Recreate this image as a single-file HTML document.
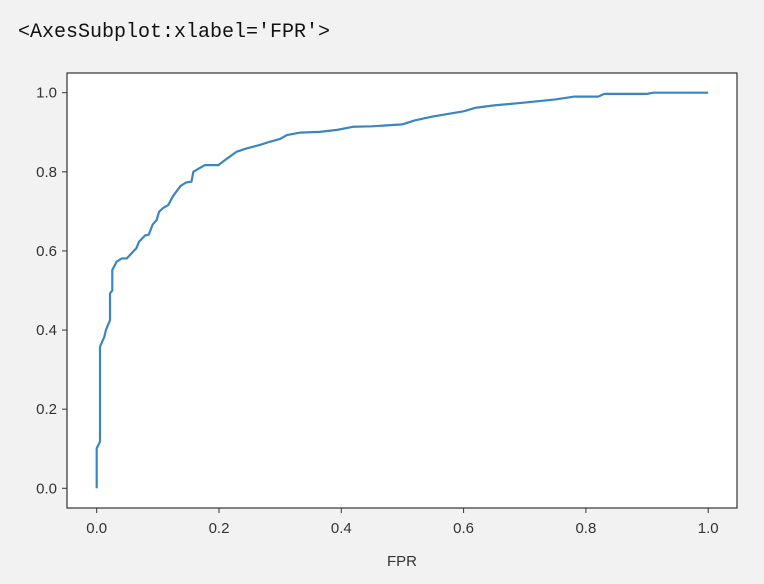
<!DOCTYPE html>
<html><head><meta charset="utf-8"><style>
body{margin:0;background:#f2f2f2;width:764px;height:584px;overflow:hidden}
.t{position:absolute;left:18px;top:21px;font:20px "Liberation Mono",monospace;color:#111;white-space:pre}
svg{position:absolute;left:0;top:0}
text{font-family:"Liberation Sans",sans-serif;font-size:15px;fill:#333}
</style></head><body>
<div class="t">&lt;AxesSubplot:xlabel='FPR'&gt;</div>
<svg width="764" height="584">
<g id="g"></g>
</svg>
<script>
const fpr=[0,0,0.0054,0.0054,0.0125,0.015,0.0218,0.0218,0.0255,0.0255,0.0327,0.041,0.049,0.057,0.065,0.069,0.079,0.085,0.0916,0.098,0.102,0.109,0.117,0.125,0.137,0.146,0.155,0.158,0.169,0.177,0.199,0.210,0.229,0.245,0.267,0.283,0.300,0.311,0.332,0.365,0.393,0.42,0.45,0.5,0.52,0.55,0.6,0.62,0.65,0.7,0.75,0.78,0.82,0.83,0.9,0.91,1.0];
const tpr=[0,0.101,0.118,0.358,0.383,0.40,0.425,0.493,0.50,0.552,0.573,0.581,0.581,0.594,0.607,0.623,0.639,0.641,0.667,0.678,0.699,0.709,0.716,0.739,0.764,0.773,0.775,0.80,0.81,0.817,0.817,0.830,0.851,0.859,0.868,0.876,0.883,0.893,0.899,0.901,0.906,0.914,0.915,0.92,0.93,0.94,0.953,0.962,0.968,0.975,0.983,0.99,0.99,0.997,0.997,1.0,1.0];
const xTicks=[0,0.2,0.4,0.6,0.8,1.0];
const yTicks=[0,0.2,0.4,0.6,0.8,1.0];
const X=v=>96.7+v*611.5, Y=v=>488.3-v*395.6;
const NS='http://www.w3.org/2000/svg', g=document.getElementById('g');
function mk(t,a){const e=document.createElementNS(NS,t);for(const k in a)e.setAttribute(k,a[k]);g.appendChild(e);return e;}
const bg=mk('rect',{x:67,y:73,width:670,height:435,fill:'#fff'});


xTicks.forEach(v=>{
 const l=mk('line',{x1:X(v),x2:X(v),y1:508,y2:513,stroke:'#333','stroke-width':1});
 
 
 const t=mk('text',{x:X(v),y:533,'text-anchor':'middle'});t.textContent=v.toFixed(1);
 
 
});
yTicks.forEach(v=>{
 const l=mk('line',{x1:62,x2:67,y1:Y(v),y2:Y(v),stroke:'#333','stroke-width':1});
 
 
 const t=mk('text',{x:57,y:Y(v)+5,'text-anchor':'end'});t.textContent=v.toFixed(1);
 
 
});
const p=mk('polyline',{points:fpr.map((v,i)=>X(v)+','+Y(tpr[i])).join(' '),fill:'none',stroke:'#3a86c0','stroke-width':2.2,'stroke-linejoin':'round'});


const fr=mk('rect',{x:67,y:73,width:670,height:435,fill:'none',stroke:'#333','stroke-width':1.2});


const xl=mk('text',{x:402,y:566,'text-anchor':'middle'});xl.textContent='FPR';


</script>
</body></html>
